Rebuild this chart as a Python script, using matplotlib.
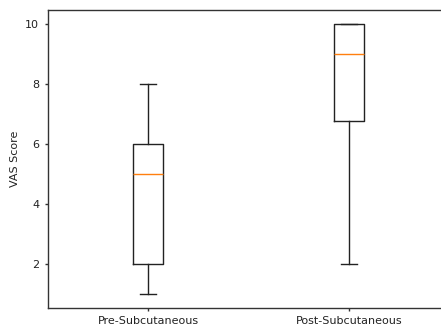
import matplotlib.pyplot as plt

# Box statistics
labels = ["Pre-Subcutaneous", "Post-Subcutaneous"]
whislo = [1, 2]
q1 = [2, 6.75]
med = [5, 9]
q3 = [6, 10]
whishi = [8, 10]

stats = []
for i in range(len(labels)):
    stats.append({"label": labels[i], "whislo": whislo[i], "q1": q1[i],
                  "med": med[i], "q3": q3[i], "whishi": whishi[i], "fliers": []})

fig = plt.figure(figsize=(4.41, 3.27), dpi=100)
# axes runs a bit past the right edge, as in the cropped reference
ax = fig.add_axes([47.5 / 441, 19 / 327, 402 / 441, 298 / 327])

lw = 1.0
ax.bxp(stats, widths=0.15,
       boxprops=dict(linewidth=lw, color="#222222"),
       whiskerprops=dict(linewidth=lw, color="#222222"),
       capprops=dict(linewidth=lw, color="#222222"),
       medianprops=dict(linewidth=lw, color="C1"))

ax.set_xlim(0.5, 2.5)
ax.set_ylim(0.55, 10.45)
ax.set_yticks([2, 4, 6, 8, 10])
ax.set_ylabel("VAS Score", fontsize=8, color="#222222")
ax.tick_params(labelsize=8, width=lw, length=2.5, labelcolor="#222222",
               color="#333333")
for s in ax.spines.values():
    s.set_linewidth(lw)
    s.set_color("#333333")

fig.savefig("out.png", dpi=100)
